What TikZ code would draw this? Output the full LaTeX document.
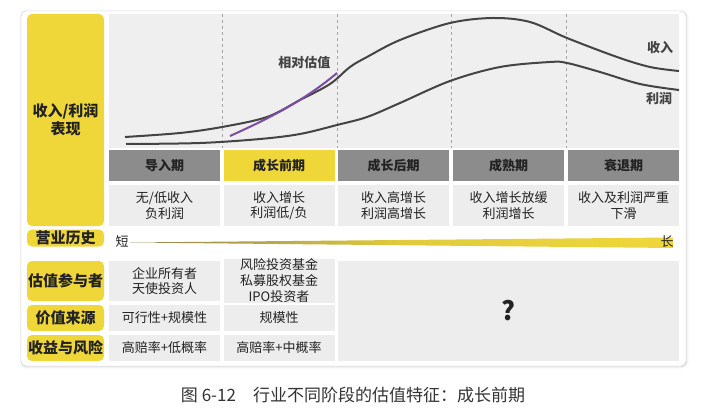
\documentclass[tikz,border=0pt]{standalone}
\usepackage{fontspec}
\setmainfont{Noto Sans CJK SC}
\usepackage{tikz}
\usetikzlibrary{positioning, calc, shadows.blur}
\usepackage{xcolor}
\definecolor{stageyellow}{HTML}{EFD73A}
\definecolor{headgrey}{HTML}{8C8C8C}
\definecolor{cellgrey}{HTML}{EDEDED}
\definecolor{chartbg}{HTML}{EFEFEF}
\definecolor{curvegrey}{HTML}{444444}
\definecolor{valpurple}{HTML}{7A4CA6}
\definecolor{textdark}{HTML}{222222}
\definecolor{oliveshort}{HTML}{8E8450}
\tikzset{
  rowlabel/.style={rectangle, fill=stageyellow, rounded corners=5pt,
                   minimum width=77pt, inner sep=0pt, align=center,
                   font=\fontsize{15}{18}\selectfont\bfseries, text=textdark},
  stagehead/.style={rectangle, fill=headgrey, minimum width=111pt, minimum height=31pt,
                    inner sep=0pt, font=\fontsize{13}{15}\selectfont\bfseries, text=textdark},
  stagenow/.style={stagehead, fill=stageyellow},
  stagecell/.style={rectangle, fill=cellgrey, minimum width=111pt, inner sep=0pt,
                    align=center, font=\fontsize{13}{15.5}\selectfont, text=textdark},
  curve/.style={draw=curvegrey, line width=2pt},
  stagesep/.style={draw=black!35, dashed, thin},
  curvelabel/.style={font=\fontsize{13}{15}\selectfont\bfseries, text=curvegrey},
}

\begin{document}
\begin{tikzpicture}[x=1pt, y=-1pt]
  \useasboundingbox (0,0) rectangle (709,420);

  % outer card
  \node[draw=black!18, fill=white, rounded corners=5pt, blur shadow={shadow blur steps=4, shadow xshift=0.5pt, shadow yshift=-0.8pt, shadow opacity=20},
        minimum width=665pt, minimum height=355pt, inner sep=0pt] (card) at (353.5,188.5) {};

  % chart background and stage separators
  \node[fill=chartbg, minimum width=570pt, minimum height=134pt, inner sep=0pt] (chart) at (394,81) {};
  \foreach \x in {222,337,451,566}{\draw[stagesep] (\x,14) -- (\x,148);}

  % revenue and profit curves
  \draw[curve] plot[smooth, tension=0.55] coordinates {(125,137) (180,133) (222,127) (267,117)
      (300,100) (330,84) (350,67) (367,57) (400,40) (450,23) (493,18) (530,22) (567,38)
      (617,57) (650,67) (679,71)};
  \draw[curve] plot[smooth, tension=0.55] coordinates {(126,144) (200,143) (260,139) (300,134)
      (337,125) (367,117) (400,103) (450,81) (500,67) (550,62) (567,63) (600,72) (640,84) (679,90)};
  \draw[valpurple, line width=2pt] (230,136) .. controls (270,118) and (305,100) .. (337,73);

  \node[curvelabel, anchor=east] (relval) at (334,63) {相对估值};
  \node[curvelabel] (revlab) at (660,48) {收入};
  \node[curvelabel] (proflab) at (659,98) {利润};

  % left row labels
  \node[rowlabel, minimum height=212pt] (perf) at (65.5,120) {收入/利润\\表现};
  \node[rowlabel, minimum height=17pt] (hist) at (65.5,238) {营业历史};
  \node[rowlabel, minimum height=40pt] (who) at (65.5,281) {估值参与者};
  \node[rowlabel, minimum height=26pt] (src) at (65.5,318) {价值来源};
  \node[rowlabel, minimum height=26pt] (risk) at (65.5,348) {收益与风险};

  % stage headers
  \node[stagehead] (s1) at (164.5,165.5) {导入期};
  \node[stagenow]  (s2) at (279,165.5) {成长前期};
  \node[stagehead] (s3) at (393.5,165.5) {成长后期};
  \node[stagehead] (s4) at (508.5,165.5) {成熟期};
  \node[stagehead] (s5) at (623.5,165.5) {衰退期};

  % revenue / profit description
  \node[stagecell, minimum height=41pt] (d1) at (164.5,205.5) {无/低收入\\负利润};
  \node[stagecell, minimum height=41pt] (d2) at (279,205.5) {收入增长\\利润低/负};
  \node[stagecell, minimum height=41pt] (d3) at (393.5,205.5) {收入高增长\\利润高增长};
  \node[stagecell, minimum height=41pt] (d4) at (508.5,205.5) {收入增长放缓\\利润增长};
  \node[stagecell, minimum height=41pt] (d5) at (623.5,205.5) {收入及利润严重\\下滑};

  % operating history bar
  \shade[left color=oliveshort, right color=stageyellow, middle color=stageyellow!85!oliveshort]
    (130,242.5) -- (673,237.5) -- (673,248) -- cycle;
  \node[font=\fontsize{13}{15}\selectfont, text=textdark] (short) at (122,241.5) {短};
  \node[font=\fontsize{13}{15}\selectfont, text=textdark] (long) at (667,242) {长};

  % bottom rows
  \node[stagecell, minimum height=40pt] (w1) at (164.5,281) {企业所有者\\天使投资人};
  \node[stagecell, minimum height=40pt, font=\fontsize{13}{16}\selectfont] (w2) at (279,281) {风险投资基金\\私募股权基金\\IPO投资者};
  \node[stagecell, minimum height=26pt] (v1) at (164.5,318) {可行性+规模性};
  \node[stagecell, minimum height=26pt] (v2) at (279,318) {规模性};
  \node[stagecell, minimum height=26pt] (r1) at (164.5,348) {高赔率+低概率};
  \node[stagecell, minimum height=26pt] (r2) at (279,348) {高赔率+中概率};
  \node[stagecell, minimum width=341pt, minimum height=100pt, font=\fontsize{26}{28}\selectfont\bfseries] (unknown) at (508.5,311) {?};

  % caption
  \node[font=\fontsize{17}{19}\selectfont, text=black!80] (caption) at (353,395) {图 6-12\quad 行业不同阶段的估值特征：成长前期};
\end{tikzpicture}
\end{document}
